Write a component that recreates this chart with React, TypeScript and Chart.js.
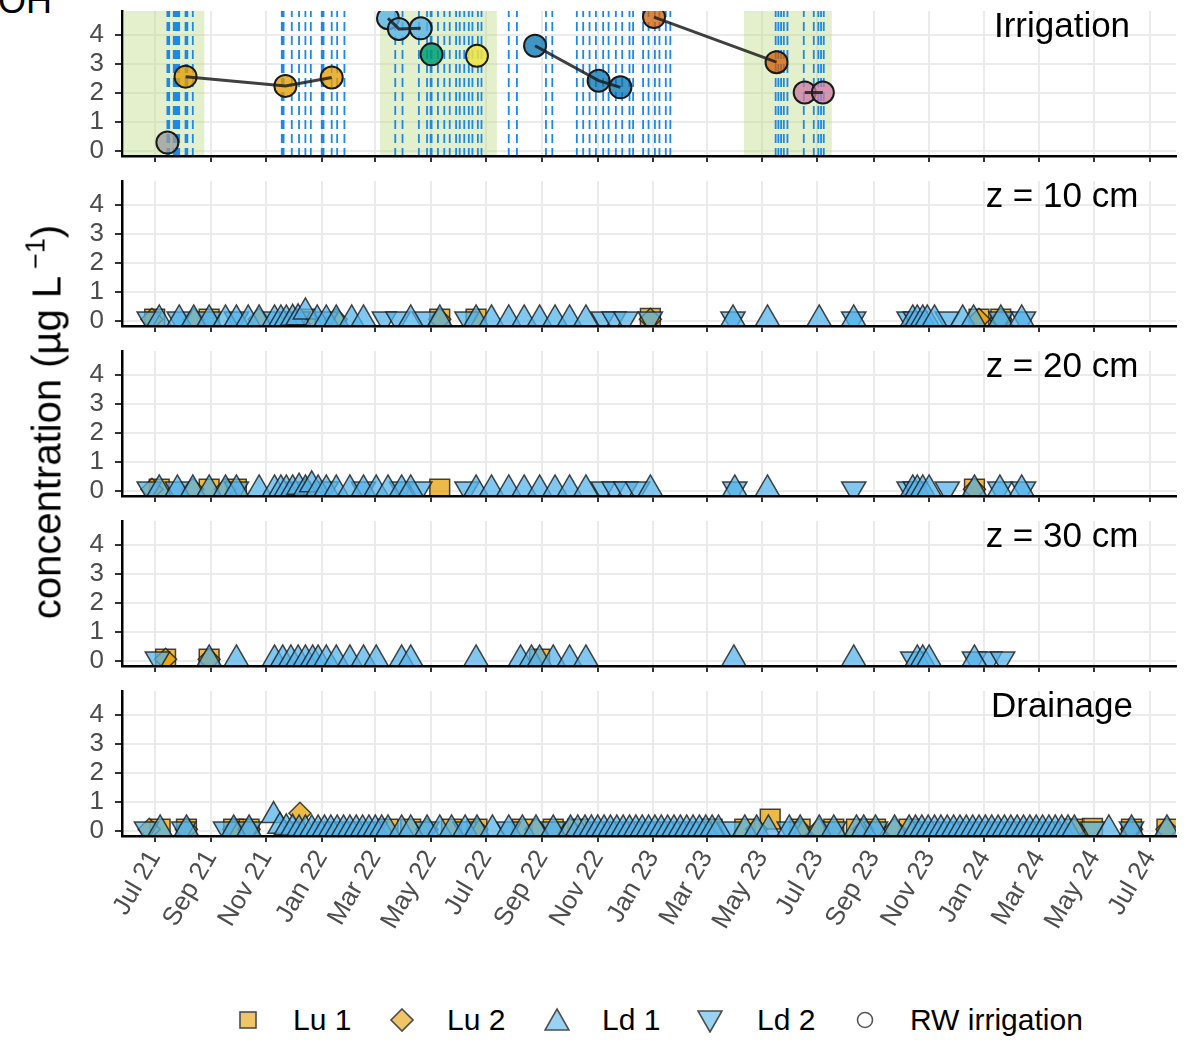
import React, { useEffect, useRef } from 'react';
import { Chart, registerables } from 'chart.js';

Chart.register(...registerables);

// ---------------- DATA ----------------
const tickDates = ['2021-07-01', '2021-09-01', '2021-11-01', '2022-01-01', '2022-03-01', '2022-05-01', '2022-07-01', '2022-09-01', '2022-11-01', '2023-01-01', '2023-03-01', '2023-05-01', '2023-07-01', '2023-09-01', '2023-11-01', '2024-01-01', '2024-03-01', '2024-05-01', '2024-07-01'];
const tickLabels = ['Jul 21', 'Sep 21', 'Nov 21', 'Jan 22', 'Mar 22', 'May 22', 'Jul 22', 'Sep 22', 'Nov 22', 'Jan 23', 'Mar 23', 'May 23', 'Jul 23', 'Sep 23', 'Nov 23', 'Jan 24', 'Mar 24', 'May 24', 'Jul 24'];
const xRange = ['2021-05-26', '2024-07-30'];
const yTicks = [0, 1, 2, 3, 4];
const yRange = [-0.185, 4.83];

const panelTitles = ['Irrigation', 'z = 10 cm', 'z = 20 cm', 'z = 30 cm', 'Drainage'];
const legendLabels = ['Lu 1', 'Lu 2', 'Ld 1', 'Ld 2', 'RW irrigation'];

// Irrigation panel
const irrigationPeriods: [string, string][] = [['2021-05-01', '2021-08-25'], ['2022-03-06', '2022-07-13'], ['2023-04-11', '2023-07-17']];
const irrigationEvents = [
  '2021-07-15', '2021-07-17', '2021-07-22', '2021-07-24', '2021-07-26', '2021-07-28', '2021-08-04', '2021-08-06', '2021-08-12',
  '2021-11-18', '2021-11-20', '2021-11-29', '2021-12-07', '2021-12-14', '2021-12-20', '2022-01-01', '2022-01-03', '2022-01-12', '2022-01-18', '2022-01-26',
  '2022-03-23', '2022-03-31', '2022-04-18', '2022-04-27', '2022-05-01', '2022-05-02', '2022-05-09', '2022-05-16', '2022-05-22', '2022-05-29', '2022-06-02', '2022-06-07', '2022-06-12', '2022-06-16', '2022-06-22', '2022-06-26',
  '2022-07-26', '2022-08-04', '2022-09-05', '2022-09-12',
  '2022-10-09', '2022-10-16', '2022-10-23', '2022-10-30', '2022-11-07', '2022-11-13', '2022-11-21', '2022-11-28', '2022-12-06', '2022-12-10', '2022-12-21', '2022-12-27', '2023-01-03', '2023-01-08', '2023-01-15', '2023-01-20',
  '2023-05-16', '2023-05-19', '2023-05-22', '2023-05-25', '2023-05-29', '2023-06-16', '2023-06-27', '2023-07-02', '2023-07-05', '2023-07-08',
];
const rwDates = ['2021-07-15', '2021-08-04', '2021-11-22', '2022-01-12', '2022-03-15', '2022-03-27', '2022-04-20', '2022-05-02', '2022-06-21', '2022-08-24', '2022-11-02', '2022-11-26', '2023-01-02', '2023-05-17', '2023-06-17', '2023-07-07'];
const rwValues = [0.28, 2.56, 2.24, 2.53, 4.58, 4.21, 4.23, 3.33, 3.28, 3.63, 2.42, 2.19, 4.62, 3.06, 2.01, 2.01];
const rwBatch = ['A', 'B', 'B', 'B', 'C', 'C', 'C', 'D', 'E', 'F', 'F', 'F', 'G', 'G', 'H', 'H'];

// z = 10 cm
const z10Lu1: [string, number][] = [['2021-07-01', 0.05], ['2021-08-30', 0.05], ['2021-12-14', 0.05], ['2022-05-11', 0.05], ['2022-06-20', 0.05], ['2022-12-29', 0.08], ['2023-12-26', 0.05], ['2024-01-19', 0.05]];
const z10Lu2: [string, number][] = [['2021-06-28', 0.05], ['2021-08-13', 0.05], ['2021-10-24', 0.05], ['2022-01-17', 0.05], ['2022-05-11', 0.05], ['2022-12-29', 0.05], ['2023-12-26', 0.05], ['2024-01-19', 0.05]];
const z10Ld1: [string, number][] = [['2021-07-06', 0.06], ['2021-07-28', 0.06], ['2021-08-13', 0.06], ['2021-08-30', 0.06], ['2021-09-17', 0.06], ['2021-09-29', 0.06], ['2021-10-12', 0.06], ['2021-10-24', 0.06], ['2021-11-10', 0.06], ['2021-11-17', 0.06], ['2021-11-23', 0.06], ['2021-11-30', 0.08], ['2021-12-06', 0.1], ['2021-12-14', 0.3], ['2021-12-27', 0.06], ['2022-01-06', 0.06], ['2022-01-17', 0.06], ['2022-02-03', 0.06], ['2022-02-16', 0.06], ['2022-04-09', 0.06], ['2022-05-11', 0.06], ['2022-06-20', 0.06], ['2022-07-07', 0.06], ['2022-07-26', 0.06], ['2022-08-12', 0.06], ['2022-08-29', 0.06], ['2022-09-15', 0.06], ['2022-10-01', 0.06], ['2022-10-19', 0.06], ['2023-03-30', 0.06], ['2023-05-07', 0.06], ['2023-07-03', 0.06], ['2023-08-10', 0.06], ['2023-10-14', 0.06], ['2023-10-19', 0.06], ['2023-10-25', 0.06], ['2023-10-30', 0.06], ['2023-11-07', 0.06], ['2023-12-08', 0.06], ['2023-12-20', 0.06], ['2024-01-19', 0.06], ['2024-02-11', 0.06]];
const z10Ld2: [string, number][] = [['2021-06-25', 0.06], ['2021-07-28', 0.06], ['2021-08-30', 0.06], ['2021-09-29', 0.06], ['2021-11-10', 0.06], ['2021-12-06', 0.06], ['2022-01-06', 0.06], ['2022-03-11', 0.06], ['2022-03-26', 0.06], ['2022-04-24', 0.06], ['2022-06-10', 0.06], ['2022-11-07', 0.06], ['2022-11-19', 0.06], ['2022-12-02', 0.06], ['2022-12-29', 0.06], ['2023-03-30', 0.06], ['2023-08-10', 0.06], ['2023-10-10', 0.06], ['2023-10-17', 0.06], ['2023-11-21', 0.06], ['2024-01-19', 0.06], ['2024-02-13', 0.06]];

// z = 20 cm
const z20Lu1: [string, number][] = [['2021-07-06', 0.05], ['2021-08-30', 0.05], ['2021-09-29', 0.05], ['2022-05-11', 0.05], ['2023-12-21', 0.05]];
const z20Lu2: [string, number][] = [['2021-06-28', 0.05], ['2021-08-12', 0.05], ['2021-09-17', 0.05], ['2021-12-14', 0.05], ['2023-12-21', 0.05]];
const z20Ld1: [string, number][] = [['2021-07-06', 0.06], ['2021-07-26', 0.06], ['2021-08-12', 0.06], ['2021-08-30', 0.06], ['2021-09-17', 0.06], ['2021-09-29', 0.06], ['2021-10-24', 0.06], ['2021-11-10', 0.06], ['2021-11-17', 0.06], ['2021-11-23', 0.06], ['2021-11-30', 0.06], ['2021-12-07', 0.12], ['2021-12-14', 0.06], ['2021-12-21', 0.2], ['2021-12-28', 0.06], ['2022-01-06', 0.06], ['2022-01-17', 0.06], ['2022-02-01', 0.06], ['2022-02-16', 0.06], ['2022-03-02', 0.06], ['2022-03-15', 0.06], ['2022-03-30', 0.06], ['2022-04-09', 0.06], ['2022-06-20', 0.06], ['2022-07-07', 0.06], ['2022-07-26', 0.06], ['2022-08-12', 0.06], ['2022-08-29', 0.06], ['2022-09-15', 0.06], ['2022-10-01', 0.06], ['2022-10-19', 0.06], ['2022-12-29', 0.06], ['2023-04-01', 0.06], ['2023-05-07', 0.06], ['2023-10-14', 0.06], ['2023-10-19', 0.06], ['2023-10-25', 0.06], ['2023-11-01', 0.06], ['2023-12-21', 0.06], ['2024-01-18', 0.06], ['2024-02-11', 0.06]];
const z20Ld2: [string, number][] = [['2021-06-25', 0.06], ['2021-07-26', 0.06], ['2021-09-29', 0.06], ['2021-12-06', 0.06], ['2022-01-06', 0.06], ['2022-02-16', 0.06], ['2022-03-30', 0.06], ['2022-04-19', 0.06], ['2022-06-10', 0.06], ['2022-11-07', 0.06], ['2022-11-19', 0.06], ['2022-12-02', 0.06], ['2022-12-15', 0.06], ['2023-04-01', 0.06], ['2023-08-10', 0.06], ['2023-10-10', 0.06], ['2023-10-17', 0.06], ['2023-11-21', 0.06], ['2024-01-18', 0.06], ['2024-02-13', 0.06]];

// z = 30 cm
const z30Lu1: [string, number][] = [['2021-07-13', 0.05], ['2021-08-30', 0.05], ['2022-08-29', 0.05]];
const z30Lu2: [string, number][] = [['2021-07-13', 0.05], ['2021-08-30', 0.05]];
const z30Ld1: [string, number][] = [['2021-08-30', 0.06], ['2021-09-29', 0.06], ['2021-11-10', 0.06], ['2021-11-19', 0.06], ['2021-11-28', 0.06], ['2021-12-06', 0.06], ['2021-12-14', 0.06], ['2021-12-22', 0.06], ['2021-12-28', 0.06], ['2022-01-06', 0.06], ['2022-01-17', 0.06], ['2022-02-01', 0.06], ['2022-02-16', 0.06], ['2022-03-02', 0.06], ['2022-03-30', 0.06], ['2022-04-09', 0.06], ['2022-06-20', 0.06], ['2022-08-08', 0.06], ['2022-08-20', 0.06], ['2022-08-29', 0.06], ['2022-09-13', 0.06], ['2022-10-01', 0.06], ['2022-10-19', 0.06], ['2023-03-31', 0.06], ['2023-08-10', 0.06], ['2023-10-19', 0.06], ['2023-10-25', 0.06], ['2023-11-01', 0.06], ['2023-12-21', 0.06]];
const z30Ld2: [string, number][] = [['2021-07-04', 0.06], ['2023-10-14', 0.06], ['2023-12-21', 0.06], ['2024-01-07', 0.06], ['2024-01-21', 0.06]];

// Drainage
const drLu1: [string, number][] = [['2021-07-07', 0.05], ['2021-08-05', 0.05], ['2021-09-26', 0.05], ['2021-10-13', 0.05], ['2022-03-15', 0.05], ['2022-04-09', 0.05], ['2022-05-24', 0.05], ['2022-06-21', 0.05], ['2022-08-10', 0.05], ['2022-09-13', 0.05], ['2022-10-10', 0.05], ['2023-03-07', 0.05], ['2023-04-12', 0.05], ['2023-05-10', 0.4], ['2023-06-12', 0.05], ['2023-07-19', 0.05], ['2023-08-13', 0.05], ['2023-09-03', 0.05], ['2023-10-10', 0.05], ['2024-04-09', 0.05], ['2024-04-29', 0.08], ['2024-06-11', 0.05], ['2024-07-20', 0.05]];
const drLu2: [string, number][] = [['2021-06-25', 0.05], ['2021-08-05', 0.05], ['2021-09-26', 0.05], ['2021-10-13', 0.05], ['2021-12-08', 0.6], ['2022-04-27', 0.05], ['2022-06-21', 0.05], ['2022-08-25', 0.05], ['2022-10-02', 0.05], ['2023-04-25', 0.05], ['2023-06-12', 0.05], ['2023-07-03', 0.05], ['2023-08-21', 0.05], ['2023-09-24', 0.05], ['2024-04-09', 0.05], ['2024-06-11', 0.05], ['2024-07-20', 0.05]];
const drLd1: [string, number][] = [
  ['2021-07-07', 0.06], ['2021-08-05', 0.06], ['2021-09-26', 0.06], ['2021-10-13', 0.06],
  ['2021-11-09', 0.52], ['2021-11-16', 0.15], ['2021-11-23', 0.1], ['2021-11-30', 0.08], ['2021-12-07', 0.06], ['2021-12-14', 0.06], ['2021-12-21', 0.06], ['2021-12-28', 0.06], ['2022-01-04', 0.06], ['2022-01-11', 0.06], ['2022-01-18', 0.06], ['2022-01-25', 0.06], ['2022-02-01', 0.06], ['2022-02-08', 0.06], ['2022-02-15', 0.06], ['2022-02-22', 0.06], ['2022-03-01', 0.06], ['2022-03-08', 0.06], ['2022-03-15', 0.06],
  ['2022-03-30', 0.06], ['2022-04-09', 0.06], ['2022-04-27', 0.06], ['2022-05-11', 0.06], ['2022-05-24', 0.06], ['2022-06-08', 0.06], ['2022-06-21', 0.06], ['2022-07-08', 0.06], ['2022-07-26', 0.06], ['2022-08-10', 0.06], ['2022-08-25', 0.06], ['2022-09-13', 0.06], ['2022-10-02', 0.06], ['2022-10-10', 0.06],
  ['2022-10-18', 0.06], ['2022-10-25', 0.06], ['2022-11-01', 0.06], ['2022-11-08', 0.06], ['2022-11-15', 0.06], ['2022-11-22', 0.06], ['2022-11-29', 0.06], ['2022-12-06', 0.06], ['2022-12-13', 0.06], ['2022-12-20', 0.06], ['2022-12-27', 0.06], ['2023-01-03', 0.06], ['2023-01-10', 0.06], ['2023-01-17', 0.06], ['2023-01-24', 0.06], ['2023-01-31', 0.06], ['2023-02-07', 0.06], ['2023-02-14', 0.06], ['2023-02-21', 0.06], ['2023-02-28', 0.06], ['2023-03-07', 0.06], ['2023-03-14', 0.06],
  ['2023-04-12', 0.06], ['2023-04-25', 0.06], ['2023-05-08', 0.06], ['2023-05-31', 0.06], ['2023-06-12', 0.06], ['2023-07-03', 0.06], ['2023-07-19', 0.06], ['2023-08-13', 0.06], ['2023-08-21', 0.06], ['2023-09-03', 0.06], ['2023-09-24', 0.06],
  ['2023-10-10', 0.06], ['2023-10-17', 0.06], ['2023-10-24', 0.06], ['2023-10-31', 0.06], ['2023-11-07', 0.06], ['2023-11-14', 0.06], ['2023-11-21', 0.06], ['2023-11-28', 0.06], ['2023-12-05', 0.06], ['2023-12-12', 0.06], ['2023-12-19', 0.06], ['2023-12-26', 0.06], ['2024-01-02', 0.06], ['2024-01-09', 0.06], ['2024-01-16', 0.06], ['2024-01-23', 0.06], ['2024-01-30', 0.06], ['2024-02-06', 0.06], ['2024-02-13', 0.06], ['2024-02-20', 0.06], ['2024-02-27', 0.06], ['2024-03-05', 0.06], ['2024-03-12', 0.06], ['2024-03-19', 0.06], ['2024-03-26', 0.06], ['2024-04-02', 0.06], ['2024-04-09', 0.06],
  ['2024-05-17', 0.06], ['2024-06-11', 0.06], ['2024-07-20', 0.06],
];
const drLd2: [string, number][] = [['2021-06-22', 0.06], ['2021-08-02', 0.06], ['2021-09-17', 0.06], ['2021-10-13', 0.06], ['2021-11-30', 0.06], ['2022-01-04', 0.06], ['2022-02-01', 0.06], ['2022-03-01', 0.06], ['2022-04-27', 0.06], ['2022-06-08', 0.06], ['2022-07-26', 0.06], ['2022-09-13', 0.06], ['2022-11-01', 0.06], ['2022-11-29', 0.06], ['2022-12-27', 0.06], ['2023-01-24', 0.06], ['2023-02-21', 0.06], ['2023-03-26', 0.06], ['2023-05-31', 0.06], ['2023-07-19', 0.06], ['2023-09-03', 0.06], ['2023-10-24', 0.06], ['2023-11-21', 0.06], ['2023-12-19', 0.06], ['2024-01-16', 0.06], ['2024-02-13', 0.06], ['2024-03-12', 0.06], ['2024-04-29', 0.06], ['2024-06-11', 0.06]];

// ---------------- STYLE / LAYOUT ----------------
const FONT = '"Liberation Sans", Arial, Helvetica, sans-serif';
const W = 1191;
const PANEL_TOPS = [11, 181, 351, 521, 691];
const PANEL_H = 145;
const PAD = 4;
const AXIS_H = 14;
const LAST_AXIS_H = 140;
const Y_AXIS_W = 122;
const RIGHT_PAD = 15;
const TICK_FONT = 26;
const GOLD = 'rgba(230,159,0,0.72)';
const BLUE = 'rgba(86,180,233,0.74)';
const EDGE = 'rgba(25,25,25,0.8)';
const batchColors: Record<string, string> = {
  A: 'rgba(153,153,153,0.75)', B: 'rgba(230,159,0,0.78)', C: 'rgba(86,180,233,0.78)', D: 'rgba(0,158,115,0.85)',
  E: 'rgba(240,228,66,0.85)', F: 'rgba(0,114,178,0.75)', G: 'rgba(213,94,0,0.75)', H: 'rgba(204,121,167,0.75)',
};
const CLIP = { left: -1, top: 0, right: 0, bottom: -1 };

const day = (s: string) => Date.parse(s) / 864e5;
const pts = (rows: [string, number][]) => rows.map(([d, v]) => ({ x: day(d), y: v }));

function irrigationDatasets(): any[] {
  const ds: any[] = [];
  irrigationPeriods.forEach(([s, e]) => {
    ds.push({
      type: 'line', data: [{ x: day(s), y: yRange[1] + 1 }, { x: day(e), y: yRange[1] + 1 }],
      fill: 'start', backgroundColor: 'rgba(190,220,130,0.42)', borderWidth: 0, pointRadius: 0, order: 10, clip: CLIP,
    });
  });
  const ev: any[] = [];
  irrigationEvents.forEach((d) => {
    ev.push({ x: day(d), y: yRange[0] - 1 }, { x: day(d), y: yRange[1] + 1 }, { x: day(d), y: null });
  });
  ds.push({
    type: 'line', data: ev, fill: false, borderColor: '#1E88E5', borderWidth: 1.8, borderDash: [9, 5],
    pointRadius: 0, spanGaps: false, order: 9, clip: CLIP,
  });
  const batches = Array.from(new Set(rwBatch));
  batches.forEach((b) => {
    const rows = rwDates.map((d, i) => ({ x: day(d), y: rwValues[i], b: rwBatch[i] })).filter((r) => r.b === b);
    ds.push({
      type: 'scatter', data: rows.map((r) => ({ x: r.x, y: r.y })), pointStyle: 'circle', pointRadius: 11,
      pointBackgroundColor: batchColors[b], pointBorderColor: '#1a1a1a', pointBorderWidth: 2, order: 2, clip: CLIP,
    });
    if (rows.length > 1) {
      ds.push({
        type: 'line', data: rows.map((r) => ({ x: r.x, y: r.y })), borderColor: 'rgba(30,30,30,0.85)', borderWidth: 3,
        pointRadius: 0, fill: false, order: 1, clip: CLIP,
      });
    }
  });
  return ds;
}

function concDatasets(lu1: [string, number][], lu2: [string, number][], ld1: [string, number][], ld2: [string, number][]): any[] {
  const base = { type: 'scatter', pointBorderColor: EDGE, pointBorderWidth: 1.5, clip: CLIP };
  return [
    { ...base, label: legendLabels[0], data: pts(lu1), pointStyle: 'rect', pointRadius: 14, pointBackgroundColor: GOLD, order: 4 },
    { ...base, label: legendLabels[1], data: pts(lu2), pointStyle: 'rectRot', pointRadius: 11, pointBackgroundColor: GOLD, order: 3 },
    { ...base, label: legendLabels[3], data: pts(ld2), pointStyle: 'triangle', pointRotation: 180, pointRadius: 14, pointBackgroundColor: BLUE, order: 2 },
    { ...base, label: legendLabels[2], data: pts(ld1), pointStyle: 'triangle', pointRadius: 14, pointBackgroundColor: BLUE, order: 1 },
  ];
}

function panelDatasets(i: number): any[] {
  if (i === 0) return irrigationDatasets();
  if (i === 1) return concDatasets(z10Lu1, z10Lu2, z10Ld1, z10Ld2);
  if (i === 2) return concDatasets(z20Lu1, z20Lu2, z20Ld1, z20Ld2);
  if (i === 3) return concDatasets(z30Lu1, z30Lu2, z30Ld1, z30Ld2);
  return concDatasets(drLu1, drLu2, drLd1, drLd2);
}

function canvasHeight(i: number) {
  return PAD + PANEL_H + (i === 4 ? LAST_AXIS_H : AXIS_H);
}

function makeChart(canvas: HTMLCanvasElement, i: number) {
  const last = i === 4;
  return new Chart(canvas, {
    type: 'scatter',
    data: { datasets: panelDatasets(i) },
    options: {
      animation: false,
      responsive: false,
      maintainAspectRatio: false,
      devicePixelRatio: 1,
      events: [],
      layout: { autoPadding: false, padding: { top: PAD, right: RIGHT_PAD, left: 0, bottom: 0 } },
      plugins: { legend: { display: false }, tooltip: { enabled: false } },
      scales: {
        x: {
          type: 'linear',
          min: day(xRange[0]),
          max: day(xRange[1]),
          afterBuildTicks: (s: any) => { s.ticks = tickDates.map((d) => ({ value: day(d) })); },
          afterFit: (s: any) => {
            s.height = last ? LAST_AXIS_H : AXIS_H;
            s.paddingLeft = 0; s.paddingRight = 0; s.paddingTop = 0; s.paddingBottom = 0;
          },
          ticks: {
            display: last, autoSkip: false, minRotation: 60, maxRotation: 60, padding: 3,
            font: { family: FONT, size: TICK_FONT }, color: '#4D4D4D',
            callback: (_v: any, idx: number) => tickLabels[idx],
          },
          grid: { color: '#EBEBEB', lineWidth: 2, drawTicks: true, tickLength: 6, tickColor: '#333333', tickWidth: 2 },
          border: { display: true, color: '#000000', width: 2.5 },
        },
        y: {
          type: 'linear',
          min: yRange[0],
          max: yRange[1],
          afterBuildTicks: (s: any) => { s.ticks = yTicks.map((v) => ({ value: v })); },
          afterFit: (s: any) => {
            s.width = Y_AXIS_W;
            s.paddingLeft = 0; s.paddingRight = 0; s.paddingTop = 0; s.paddingBottom = 0;
          },
          ticks: { autoSkip: false, font: { family: FONT, size: TICK_FONT }, color: '#4D4D4D', padding: 11, callback: (v: any) => String(v) },
          grid: { color: '#EBEBEB', lineWidth: 2, drawTicks: true, tickLength: 7, tickColor: '#333333', tickWidth: 2 },
          border: { display: true, color: '#000000', width: 2.5 },
        },
      },
    } as any,
  });
}

function LegendIcon({ k }: { k: number }) {
  const gold = 'rgba(230,159,0,0.6)';
  const blue = 'rgba(86,180,233,0.6)';
  const stroke = '#4D4D4D';
  let shape: any;
  if (k === 0) shape = <rect x={5} y={5} width={16} height={16} fill={gold} stroke={stroke} strokeWidth={1.6} />;
  else if (k === 1) shape = <polygon points="13,2 24,13 13,24 2,13" fill={gold} stroke={stroke} strokeWidth={1.6} />;
  else if (k === 2) shape = <polygon points="13,2 25,23 1,23" fill={blue} stroke={stroke} strokeWidth={1.6} />;
  else if (k === 3) shape = <polygon points="1,4 25,4 13,25" fill={blue} stroke={stroke} strokeWidth={1.6} />;
  else shape = <circle cx={13} cy={13} r={7.5} fill="#fff" stroke="#555" strokeWidth={1.6} />;
  return <svg width={26} height={26} style={{ display: 'block' }}>{shape}</svg>;
}

const legendIconX = [248, 402, 557, 710, 865];
const legendTextX = [293, 447, 602, 757, 910];

export default function App() {
  const canvasRefs = useRef<(HTMLCanvasElement | null)[]>([]);

  useEffect(() => {
    const charts = canvasRefs.current.map((c, i) => (c ? makeChart(c, i) : null));
    return () => { charts.forEach((ch) => ch && ch.destroy()); };
  }, []);

  return (
    <div style={{ position: 'relative', width: W, height: 1040, overflow: 'hidden', background: '#fff', fontFamily: FONT }}>
      <style>{'body{margin:0;background:#fff;}'}</style>
      <div style={{ position: 'absolute', left: -2, top: -17, fontSize: 36, lineHeight: '36px', color: '#000' }}>OH</div>
      {PANEL_TOPS.map((t, i) => (
        <canvas
          key={'c' + i}
          ref={(el) => { canvasRefs.current[i] = el; }}
          width={W}
          height={canvasHeight(i)}
          style={{ position: 'absolute', left: 0, top: t - PAD, width: W, height: canvasHeight(i) }}
        />
      ))}
      {PANEL_TOPS.map((t, i) => (
        <div key={'t' + i} style={{ position: 'absolute', left: 1062, top: t + 12.5, transform: 'translate(-50%,-50%)', fontSize: 35, lineHeight: '35px', color: '#000', whiteSpace: 'nowrap' }}>
          {panelTitles[i]}
        </div>
      ))}
      <div style={{ position: 'absolute', left: 49, top: 422, transform: 'translate(-50%,-50%) rotate(-90deg)', fontSize: 40, lineHeight: '40px', color: '#000', whiteSpace: 'nowrap' }}>
        concentration (µg L<sup style={{ fontSize: 27, verticalAlign: 'baseline', position: 'relative', top: -16, marginLeft: 7 }}>−1</sup>)
      </div>
      {legendLabels.map((lab, k) => (
        <React.Fragment key={'l' + k}>
          <div style={{ position: 'absolute', left: legendIconX[k] - 13, top: 1020 - 13 }}><LegendIcon k={k} /></div>
          <div style={{ position: 'absolute', left: legendTextX[k], top: 1020, transform: 'translateY(-50%)', fontSize: 30, lineHeight: '30px', color: '#000', whiteSpace: 'nowrap' }}>{lab}</div>
        </React.Fragment>
      ))}
    </div>
  );
}
